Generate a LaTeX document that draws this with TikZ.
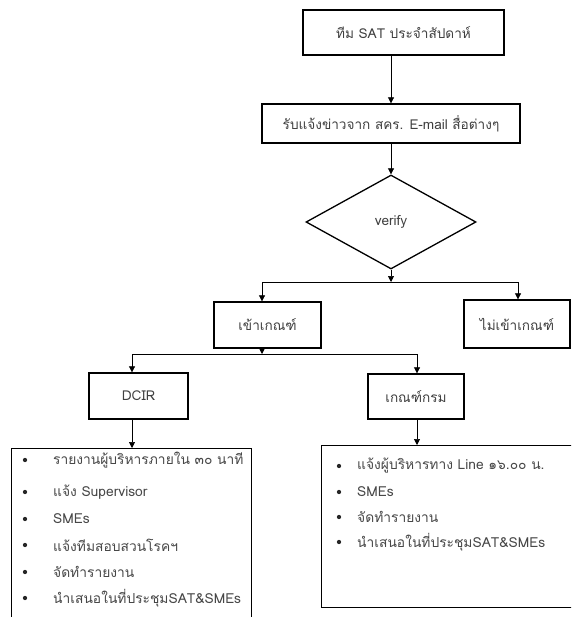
\documentclass[tikz,border=0pt]{standalone}
\usepackage{fontspec}
\setmainfont{Loma}[Script=Thai]
\usetikzlibrary{shapes.geometric,arrows.meta}
\begin{document}
\begin{tikzpicture}[x=1pt,y=-1pt,
  txt/.style={text=black!75, font=\fontsize{13.6}{15}\selectfont},
  box/.style={draw, line width=1.3pt, rectangle, inner sep=0pt, txt},
  dec/.style={draw, line width=1.3pt, diamond, inner sep=0pt, txt},
  listbox/.style={draw, line width=1.3pt, rectangle, inner sep=0pt, anchor=north west},
  conn/.style={draw, line width=0.7pt},
  arr/.style={conn, -{Triangle[length=6pt,width=6pt]}},
  item/.style={anchor=west, inner sep=0pt, text=black!72, font=\fontsize{13.8}{16}\selectfont},
  dot/.style={fill=black!85, circle, inner sep=0pt, minimum size=4.3pt}
]
\clip (0,0) rectangle (571,617);
\fill[white] (0,0) rectangle (571,617);

\node[box, minimum width=201pt, minimum height=45pt] (team) at (403.5,32.5) {ทีม SAT ประจำสัปดาห์};
\node[box, minimum width=258pt, minimum height=39pt] (news) at (391,123.5) {รับแจ้งข่าวจาก สคร. E-mail สื่อต่างๆ};
\node[dec, minimum width=170pt, minimum height=94pt] (verify) at (391,222) {verify};
\node[box, minimum width=107pt, minimum height=46pt] (in) at (267.5,325) {เข้าเกณฑ์};
\node[box, minimum width=106pt, minimum height=48pt] (out) at (517,324) {ไม่เข้าเกณฑ์};
\node[box, minimum width=99pt, minimum height=46pt] (dcir) at (138.5,396) {DCIR};
\node[box, minimum width=96pt, minimum height=45pt] (dept) at (416,396.5) {เกณฑ์กรม};
\node[listbox, minimum width=240pt, minimum height=190pt] (listA) at (11,448) {};
\node[listbox, minimum width=270pt, minimum height=162pt] (listB) at (321,445) {};

\coordinate (s1) at (391,282);
\coordinate (s1l) at (262,282);
\coordinate (s1r) at (518,282);
\coordinate (s2) at (262,354);
\coordinate (s2l) at (132,354);
\coordinate (s2r) at (417,354);

\draw[arr] (news.north |- team.south) -- (news.north);
\draw[arr] (news.south) -- (verify.north);
\draw[arr] (verify.south) -- (s1);
\draw[conn] (s1l) -- (s1r);
\draw[arr] (s1l) -- (s1l |- in.north);
\draw[arr] (s1r) -- (s1r |- out.north);
\draw[arr] (s1l |- in.south) -- (s2);
\draw[conn] (s2l) -- (s2r);
\draw[arr] (s2l) -- (s2l |- dcir.north);
\draw[arr] (s2r) -- (s2r |- dept.north);
\draw[arr] (s2l |- dcir.south) -- (s2l |- listA.north);
\draw[arr] (s2r |- dept.south) -- (s2r |- listB.north);

\foreach \y/\t [count=\i] in {460/รายงานผู้บริหารภายใน ๓๐ นาที, 492/แจ้ง Supervisor, 519/SMEs, 545/แจ้งทีมสอบสวนโรคฯ, 572/จัดทำรายงาน, 598/นำเสนอในที่ประชุมSAT\&SMEs}{
  \node[dot] (ad\i) at (25,\y) {};
  \node[item] (at\i) at (53,\y) {\t};
}
\foreach \y/\t [count=\i] in {466/แจ้งผู้บริหารทาง Line ๑๖.๐๐ น., 492/SMEs, 517/จัดทำรายงาน, 542/นำเสนอในที่ประชุมSAT\&SMEs}{
  \node[dot] (bd\i) at (339,\y) {};
  \node[item] (bt\i) at (357,\y) {\t};
}
\end{tikzpicture}
\end{document}
